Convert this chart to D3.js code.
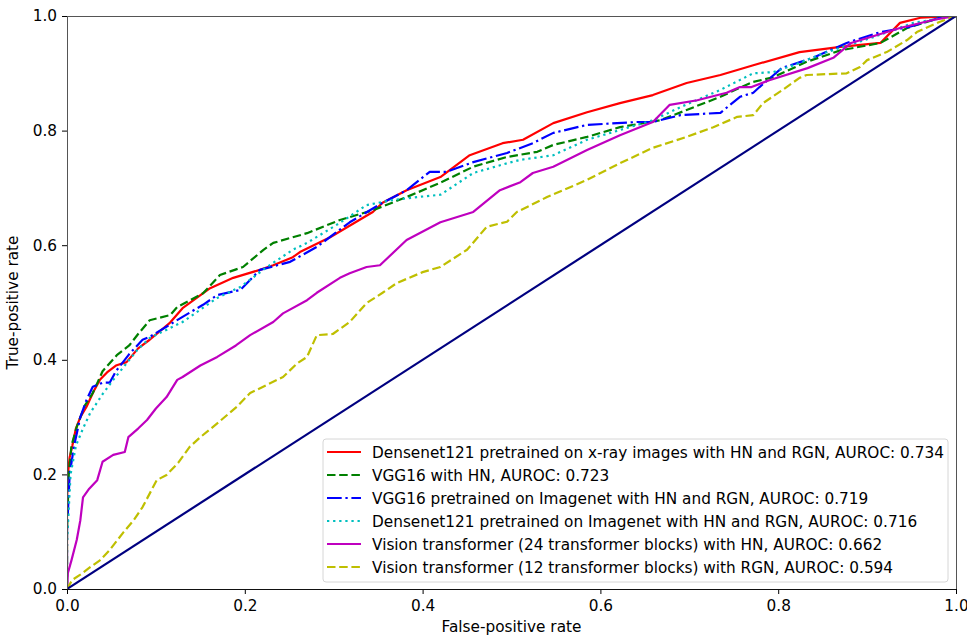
<!DOCTYPE html>
<html>
<head>
  <meta charset="utf-8">
  <title>ROC curves</title>
  <script src="https://d3js.org/d3.v7.min.js"></script>
  <style>
    body { margin: 0; background: #fff; }
    text { font-family: 'DejaVu Sans', sans-serif; font-size: 15.3px; fill: #000; }
  </style>
</head>
<body>
  <div id="chart"></div>
  <script>
    // Legend labels, in drawing order
    var labels = [
      "Densenet121 pretrained on x-ray images with HN and RGN, AUROC: 0.734",
      "VGG16 with HN, AUROC: 0.723",
      "VGG16 pretrained on Imagenet with HN and RGN, AUROC: 0.719",
      "Densenet121 pretrained on Imagenet with HN and RGN, AUROC: 0.716",
      "Vision transformer (24 transformer blocks) with HN, AUROC: 0.662",
      "Vision transformer (12 transformer blocks) with RGN, AUROC: 0.594"
    ];

    // ROC points [false-positive rate, true-positive rate]
    var densenetXray = [[0,0],[0,0.15],[0.001,0.2],[0.003,0.23],[0.006,0.25],[0.01,0.28],[0.015,0.3],[0.022,0.318],[0.03,0.345],[0.037,0.365],[0.045,0.378],[0.055,0.39],[0.067,0.396],[0.08,0.42],[0.093,0.435],[0.116,0.465],[0.13,0.49],[0.161,0.525],[0.187,0.543],[0.217,0.557],[0.232,0.565],[0.254,0.579],[0.262,0.588],[0.296,0.614],[0.344,0.658],[0.355,0.674],[0.382,0.696],[0.42,0.719],[0.453,0.757],[0.49,0.778],[0.513,0.784],[0.547,0.813],[0.585,0.832],[0.622,0.848],[0.659,0.862],[0.697,0.883],[0.735,0.897],[0.772,0.914],[0.824,0.937],[0.87,0.946],[0.915,0.953],[0.937,0.988],[0.96,0.997],[1,1]];
    var vgg16Hn = [[0,0],[0,0.1],[0.002,0.2],[0.005,0.25],[0.011,0.283],[0.02,0.32],[0.029,0.342],[0.04,0.38],[0.056,0.408],[0.07,0.425],[0.08,0.445],[0.093,0.469],[0.116,0.478],[0.124,0.492],[0.153,0.516],[0.172,0.548],[0.198,0.562],[0.221,0.592],[0.232,0.604],[0.27,0.621],[0.307,0.644],[0.344,0.661],[0.382,0.684],[0.42,0.709],[0.457,0.737],[0.495,0.754],[0.529,0.763],[0.547,0.775],[0.585,0.789],[0.622,0.806],[0.667,0.818],[0.697,0.836],[0.735,0.859],[0.757,0.875],[0.772,0.885],[0.794,0.893],[0.832,0.92],[0.87,0.94],[0.915,0.953],[0.945,0.979],[0.982,0.997],[1,1]];
    var vgg16Imagenet = [[0,0],[0,0.1],[0.003,0.2],[0.008,0.25],[0.015,0.3],[0.022,0.33],[0.029,0.353],[0.04,0.36],[0.048,0.36],[0.055,0.38],[0.07,0.41],[0.085,0.435],[0.093,0.44],[0.13,0.475],[0.153,0.496],[0.169,0.513],[0.195,0.522],[0.217,0.557],[0.251,0.571],[0.281,0.597],[0.318,0.64],[0.355,0.674],[0.382,0.696],[0.408,0.728],[0.427,0.728],[0.457,0.745],[0.495,0.761],[0.524,0.778],[0.547,0.796],[0.585,0.81],[0.641,0.815],[0.659,0.815],[0.69,0.827],[0.735,0.831],[0.757,0.859],[0.772,0.866],[0.779,0.876],[0.804,0.909],[0.839,0.927],[0.877,0.953],[0.915,0.972],[0.945,0.98],[0.982,0.997],[1,1]];
    var densenetImagenet = [[0,0],[0,0.08],[0.004,0.2],[0.01,0.25],[0.018,0.28],[0.026,0.307],[0.04,0.34],[0.052,0.365],[0.065,0.39],[0.079,0.417],[0.093,0.438],[0.13,0.466],[0.169,0.508],[0.195,0.527],[0.225,0.562],[0.254,0.592],[0.27,0.604],[0.307,0.639],[0.337,0.67],[0.367,0.679],[0.394,0.684],[0.42,0.688],[0.457,0.726],[0.495,0.743],[0.51,0.749],[0.547,0.757],[0.585,0.784],[0.622,0.801],[0.659,0.818],[0.69,0.841],[0.735,0.871],[0.772,0.9],[0.794,0.902],[0.817,0.914],[0.851,0.935],[0.907,0.963],[0.952,0.988],[1,1]];
    var vit24Hn = [[0,0],[0.001,0.028],[0.005,0.05],[0.011,0.086],[0.015,0.12],[0.018,0.16],[0.025,0.175],[0.034,0.19],[0.04,0.222],[0.052,0.234],[0.065,0.239],[0.069,0.265],[0.08,0.28],[0.09,0.295],[0.1,0.315],[0.112,0.335],[0.124,0.365],[0.13,0.37],[0.15,0.39],[0.169,0.405],[0.19,0.425],[0.206,0.443],[0.232,0.466],[0.243,0.481],[0.27,0.504],[0.281,0.517],[0.307,0.543],[0.318,0.551],[0.337,0.562],[0.352,0.565],[0.382,0.609],[0.42,0.64],[0.457,0.658],[0.487,0.696],[0.51,0.71],[0.524,0.726],[0.547,0.737],[0.585,0.766],[0.622,0.792],[0.659,0.815],[0.678,0.845],[0.709,0.853],[0.742,0.866],[0.757,0.876],[0.77,0.876],[0.79,0.888],[0.833,0.909],[0.862,0.927],[0.882,0.953],[0.937,0.979],[0.974,0.993],[1,1]];
    var vit12Rgn = [[0,0],[0.006,0.016],[0.015,0.025],[0.026,0.038],[0.037,0.05],[0.048,0.068],[0.063,0.098],[0.075,0.12],[0.085,0.143],[0.101,0.19],[0.112,0.199],[0.125,0.22],[0.138,0.248],[0.15,0.265],[0.169,0.289],[0.191,0.318],[0.206,0.342],[0.243,0.37],[0.259,0.394],[0.27,0.405],[0.281,0.443],[0.299,0.445],[0.318,0.466],[0.337,0.499],[0.355,0.517],[0.371,0.534],[0.4,0.553],[0.42,0.562],[0.45,0.592],[0.472,0.632],[0.495,0.641],[0.506,0.658],[0.51,0.661],[0.54,0.684],[0.585,0.714],[0.622,0.743],[0.659,0.77],[0.697,0.789],[0.727,0.806],[0.754,0.824],[0.772,0.827],[0.783,0.848],[0.805,0.871],[0.824,0.892],[0.832,0.897],[0.877,0.9],[0.892,0.911],[0.9,0.923],[0.922,0.937],[0.945,0.958],[0.956,0.972],[0.982,0.99],[0.997,0.998],[1,1]];
    var chance = [[0,0],[1,1]];

    var xTicks = [0, 0.2, 0.4, 0.6, 0.8, 1.0];
    var yTicks = [0, 0.2, 0.4, 0.6, 0.8, 1.0];

    var series = [densenetXray, vgg16Hn, vgg16Imagenet, densenetImagenet, vit24Hn, vit12Rgn];
    var styles = [
      { color: "#ff0000", dash: null },
      { color: "#008000", dash: "8.5,3.7" },
      { color: "#0000ff", dash: "14.7,3.7,2.3,3.7" },
      { color: "#00bfbf", dash: "2.3,3.8" },
      { color: "#bf00bf", dash: null },
      { color: "#bfbf00", dash: "8.5,3.7" }
    ];

    var margin = {top: 16, right: 11, bottom: 50, left: 67},
        width = 967 - margin.left - margin.right,
        height = 639 - margin.top - margin.bottom;

    var svg = d3.select("#chart")
      .append("svg")
        .attr("width", 967)
        .attr("height", 639)
      .append("g")
        .attr("transform", "translate(" + margin.left + "," + margin.top + ")");

    var x = d3.scaleLinear().domain([0, 1]).range([0, width]);
    var y = d3.scaleLinear().domain([0, 1]).range([height, 0]);

    svg.append("clipPath").attr("id", "clip")
      .append("rect").attr("width", width).attr("height", height);

    var line = d3.line()
      .x(function(d) { return x(d[0]); })
      .y(function(d) { return y(d[1]); });

    var plot = svg.append("g").attr("clip-path", "url(#clip)");

    series.forEach(function(s, i) {
      plot.append("path")
        .datum(s)
        .attr("fill", "none")
        .attr("stroke", styles[i].color)
        .attr("stroke-width", 2.2)
        .attr("stroke-linejoin", "round")
        .attr("stroke-dasharray", styles[i].dash)
        .attr("d", line);
    });

    // chance diagonal
    plot.append("path")
      .datum(chance)
      .attr("fill", "none")
      .attr("stroke", "#000080")
      .attr("stroke-width", 2.2)
      .attr("d", line);

    // axes
    var xAxis = svg.append("g")
      .attr("transform", "translate(0," + height + ")")
      .call(d3.axisBottom(x).tickValues(xTicks).tickFormat(d3.format(".1f")).tickSize(5).tickPadding(6));
    var yAxis = svg.append("g")
      .call(d3.axisLeft(y).tickValues(yTicks).tickFormat(d3.format(".1f")).tickSize(5).tickPadding(5));
    [xAxis, yAxis].forEach(function(a) {
      a.select(".domain").remove();
      a.selectAll("text").style("font-family", "'DejaVu Sans', sans-serif").style("font-size", "15.3px").attr("fill", "#000");
      a.selectAll("line").attr("stroke", "#000");
    });

    // spines
    svg.append("line").attr("x1", 0).attr("x2", width).attr("y1", 0.5).attr("y2", 0.5).attr("stroke", "#555");
    svg.append("line").attr("x1", 0.5).attr("x2", 0.5).attr("y1", 0).attr("y2", height).attr("stroke", "#555");
    svg.append("line").attr("x1", width + 0.5).attr("x2", width + 0.5).attr("y1", 0).attr("y2", height).attr("stroke", "#555");
    svg.append("line").attr("x1", 0).attr("x2", width).attr("y1", height + 0.5).attr("y2", height + 0.5).attr("stroke", "#111");

    // axis labels
    svg.append("text")
      .attr("x", width / 2).attr("y", height + 43)
      .attr("text-anchor", "middle")
      .text("False-positive rate");
    svg.append("text")
      .attr("transform", "translate(" + (-49) + "," + (height / 2) + ") rotate(-90)")
      .attr("text-anchor", "middle")
      .text("True-positive rate");

    // legend
    var lgX = 323 - margin.left, lgY = 439 - margin.top;
    var legend = svg.append("g").attr("transform", "translate(" + lgX + "," + lgY + ")");
    legend.append("rect")
      .attr("width", 625).attr("height", 143)
      .attr("rx", 3)
      .attr("fill", "#fff").attr("fill-opacity", 0.8)
      .attr("stroke", "#d6d6d6");
    labels.forEach(function(lab, i) {
      var cy = 13 + i * 23;
      legend.append("line")
        .attr("x1", 4).attr("x2", 38).attr("y1", cy).attr("y2", cy)
        .attr("stroke", styles[i].color)
        .attr("stroke-width", 2.2)
        .attr("stroke-dasharray", styles[i].dash);
      legend.append("text")
        .attr("x", 49).attr("y", cy).attr("dy", "0.36em")
        .text(lab);
    });
  </script>
</body>
</html>
